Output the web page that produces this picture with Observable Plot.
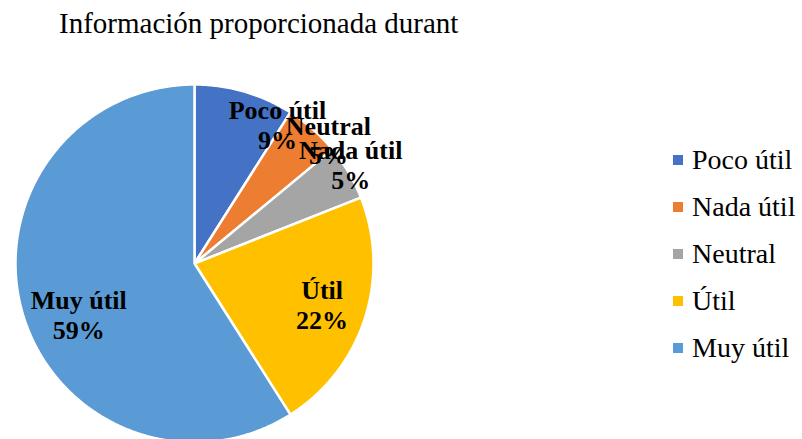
<!DOCTYPE html>
<html>
<head>
<meta charset="utf-8">
<script src="https://cdn.jsdelivr.net/npm/d3@7"></script>
<script src="https://cdn.jsdelivr.net/npm/@observablehq/plot@0.6"></script>
<style>
  html, body { margin: 0; padding: 0; background: #fff; overflow: hidden; }
  #wrap { position: relative; width: 802px; height: 439px; overflow: hidden; }
  #title { position: absolute; left: 59px; top: 9px; font-family: "Liberation Serif", Tinos, "Times New Roman", "DejaVu Serif", "Noto Serif", serif; font-size: 29px; line-height: 1; color: #000; white-space: nowrap; }
  #chart { position: absolute; left: 0; top: 0; }
  #legend { position: absolute; left: 673px; top: 136.5px; width: 129px; }
  #legend .lg-swatch { height: 47px; padding-bottom: 0 !important; display: flex; align-items: center; }
  #legend .lg-swatch > svg { margin-right: 9px !important; }
  #legend .lg-swatch-label { line-height: 1; overflow: visible !important; }
</style>
</head>
<body>
<div id="wrap">
  <div id="title">Información proporcionada durant</div>
  <div id="chart"></div>
  <div id="legend"></div>
</div>
<script>
// ---- data ----
const categories = ["Poco útil", "Nada útil", "Neutral", "Útil", "Muy útil"];
const percents = [9, 5, 5, 22, 59];
const colors = ["#4472C4", "#ED7D31", "#A5A5A5", "#FFC000", "#5B9BD5"];

// ---- layout / style ----
const serif = '"Liberation Serif", Tinos, "Times New Roman", "DejaVu Serif", "Noto Serif", serif';
const cx = 194, cy = 263, R = 179;
const labelRadius = 0.72;
const labelOffsets = {
  "Poco útil": [47, -15],
  "Nada útil": [71, -2],
  "Neutral": [23, -58],
  "Útil": [5, 1],
  "Muy útil": [8, 15]
};

// ---- geometry from data ----
const total = d3.sum(percents);
const slices = [];
const labels = [];
let acc = 0;
categories.forEach((cat, i) => {
  const a0 = acc / total * 2 * Math.PI;
  acc += percents[i];
  const a1 = acc / total * 2 * Math.PI;
  slices.push({cat, x: 0, y: 0});
  const n = Math.max(2, Math.ceil((a1 - a0) / (Math.PI / 360)));
  for (let k = 0; k <= n; k++) {
    const a = a0 + (a1 - a0) * k / n;
    slices.push({cat, x: Math.sin(a), y: Math.cos(a)});
  }
  slices.push({cat, x: 0, y: 0});
  const am = (a0 + a1) / 2;
  labels.push({cat, x: labelRadius * Math.sin(am), y: labelRadius * Math.cos(am), text: `${cat}\n${percents[i]}%`});
});

const chart = Plot.plot({
  width: 802,
  height: 439,
  margin: 0,
  x: {domain: [-1, 1], range: [cx - R, cx + R], axis: null},
  y: {domain: [-1, 1], range: [cy + R, cy - R], axis: null},
  color: {domain: categories, range: colors},
  style: {background: "transparent", fontFamily: serif},
  marks: [
    Plot.line(slices, {x: "x", y: "y", z: "cat", fill: "cat", stroke: "white", strokeWidth: 2.5, strokeLinejoin: "miter", strokeMiterlimit: 4}),
    ...labels.map(d => Plot.text([d], {
      x: "x", y: "y", text: "text",
      dx: labelOffsets[d.cat][0], dy: labelOffsets[d.cat][1],
      fontSize: 26, fontWeight: "bold", fontFamily: serif,
      lineHeight: 30 / 26, fill: "black", textAnchor: "middle", lineAnchor: "middle"
    }))
  ]
});
document.getElementById("chart").appendChild(chart);

const legend = Plot.legend({
  color: {type: "ordinal", domain: categories, range: colors},
  legend: "swatches",
  columns: 1,
  swatchSize: 10,
  className: "lg",
  style: {fontFamily: serif, fontSize: "28px", color: "#000", margin: "0"}
});
document.getElementById("legend").appendChild(legend);
</script>
</body>
</html>
